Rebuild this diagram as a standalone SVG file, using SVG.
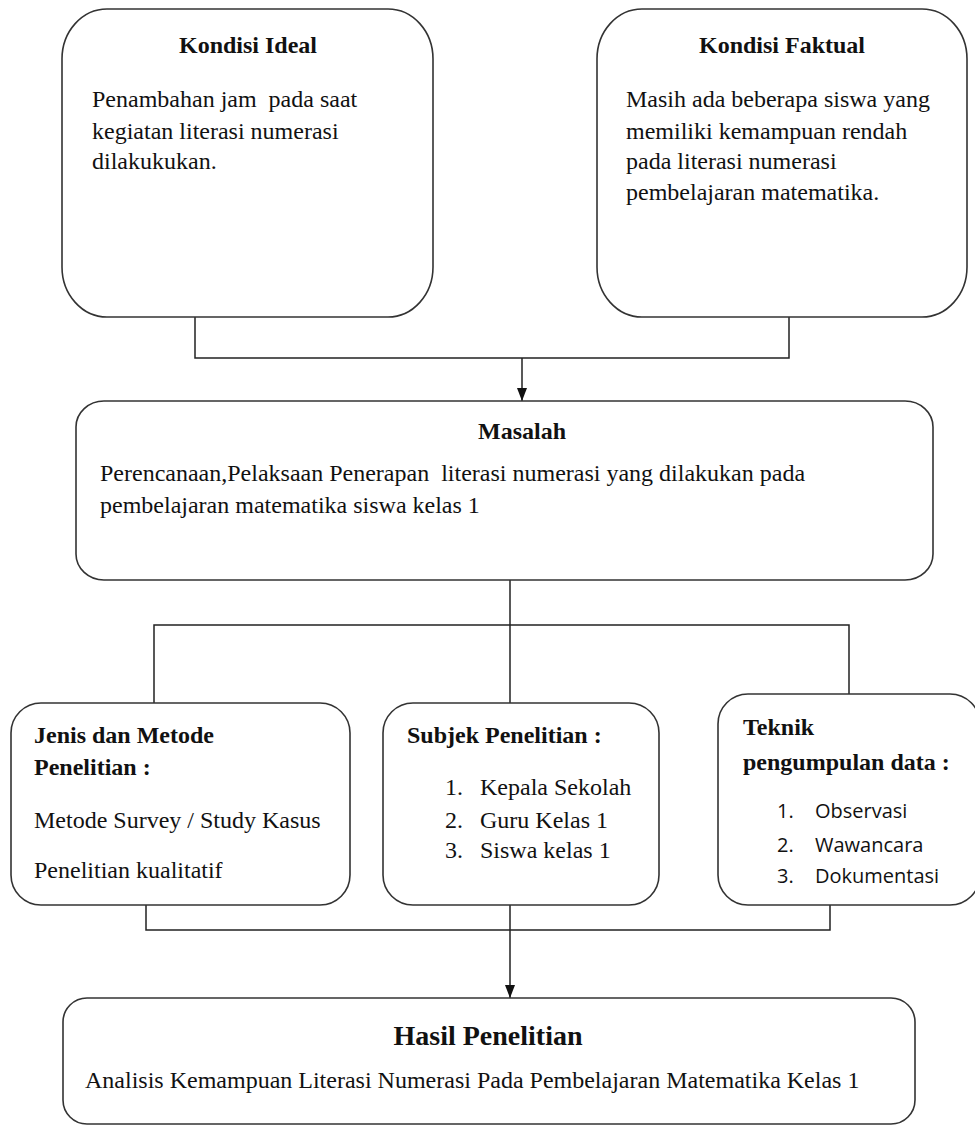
<svg xmlns="http://www.w3.org/2000/svg" width="975" height="1127" viewBox="0 0 975 1127">
<style>
.box{fill:#fff;stroke:#333;stroke-width:1.6}
.ln{fill:none;stroke:#222;stroke-width:1.5}
text{font-family:"Liberation Serif","Times New Roman",serif;font-size:24px;fill:#111;white-space:pre}
.b{font-weight:bold}
.c{text-anchor:middle}
.s{font-family:"Open Sans","Liberation Sans",sans-serif;font-size:20px}
</style>
<defs>
<marker id="arr" viewBox="0 0 13 10" refX="13" refY="5" markerWidth="13" markerHeight="10" markerUnits="userSpaceOnUse" orient="auto">
<path d="M0,0 L13,5 L0,10 Z" fill="#111"/>
</marker>
</defs>
<rect width="975" height="1127" fill="#fff"/>
<g id="connectors">
<path class="ln" d="M195,317 V358 H789 V317"/>
<path class="ln" d="M522,358 V401" marker-end="url(#arr)"/>
<path class="ln" d="M510,580 V703"/>
<path class="ln" d="M154,703 V625 H849 V703"/>
<path class="ln" d="M146,905 V930 H830 V905"/>
<path class="ln" d="M510,905 V998" marker-end="url(#arr)"/>
</g>
<g id="kondisi-ideal">
<rect class="box" x="62" y="9" width="371" height="308" rx="45" ry="50"/>
<text class="b c" x="248" y="53">Kondisi Ideal</text>
<text x="92" y="107">Penambahan jam  pada saat</text>
<text x="92" y="139">kegiatan literasi numerasi</text>
<text x="92" y="169">dilakukukan.</text>
</g>
<g id="kondisi-faktual">
<rect class="box" x="597" y="9" width="370" height="308" rx="45" ry="50"/>
<text class="b c" x="782" y="53">Kondisi Faktual</text>
<text x="626" y="107">Masih ada beberapa siswa yang</text>
<text x="626" y="139">memiliki kemampuan rendah</text>
<text x="626" y="169">pada literasi numerasi</text>
<text x="626" y="200">pembelajaran matematika.</text>
</g>
<g id="masalah">
<rect class="box" x="76" y="401" width="857" height="179" rx="28" ry="26"/>
<text class="b c" x="522" y="439">Masalah</text>
<text x="100" y="481">Perencanaan,Pelaksaan Penerapan  literasi numerasi yang dilakukan pada</text>
<text x="100" y="513">pembelajaran matematika siswa kelas 1</text>
</g>
<g id="jenis-metode">
<rect class="box" x="11" y="703" width="339" height="202" rx="30" ry="30"/>
<text class="b" x="34" y="743">Jenis dan Metode</text>
<text class="b" x="34" y="775">Penelitian :</text>
<text x="34" y="828">Metode Survey / Study Kasus</text>
<text x="34" y="878">Penelitian kualitatif</text>
</g>
<g id="subjek">
<rect class="box" x="383" y="703" width="276" height="202" rx="30" ry="30"/>
<text class="b" x="407" y="743">Subjek Penelitian :</text>
<text x="445" y="795">1.</text><text x="480" y="795">Kepala Sekolah</text>
<text x="445" y="828">2.</text><text x="480" y="828">Guru Kelas 1</text>
<text x="445" y="858">3.</text><text x="480" y="858">Siswa kelas 1</text>
</g>
<g id="teknik">
<rect class="box" x="718" y="694" width="262" height="211" rx="30" ry="30"/>
<text class="b" x="743" y="735">Teknik</text>
<text class="b" x="743" y="770">pengumpulan data :</text>
<text class="s" x="777" y="818">1.</text><text class="s" x="815" y="818">Observasi</text>
<text class="s" x="777" y="852">2.</text><text class="s" x="815" y="852">Wawancara</text>
<text class="s" x="777" y="883">3.</text><text class="s" x="815" y="883">Dokumentasi</text>
</g>
<g id="hasil">
<rect class="box" x="63" y="998" width="852" height="126" rx="24" ry="24"/>
<text class="b c" x="488" y="1045" style="font-size:28px">Hasil Penelitian</text>
<text x="85" y="1088">Analisis Kemampuan Literasi Numerasi Pada Pembelajaran Matematika Kelas 1</text>
</g>
</svg>
